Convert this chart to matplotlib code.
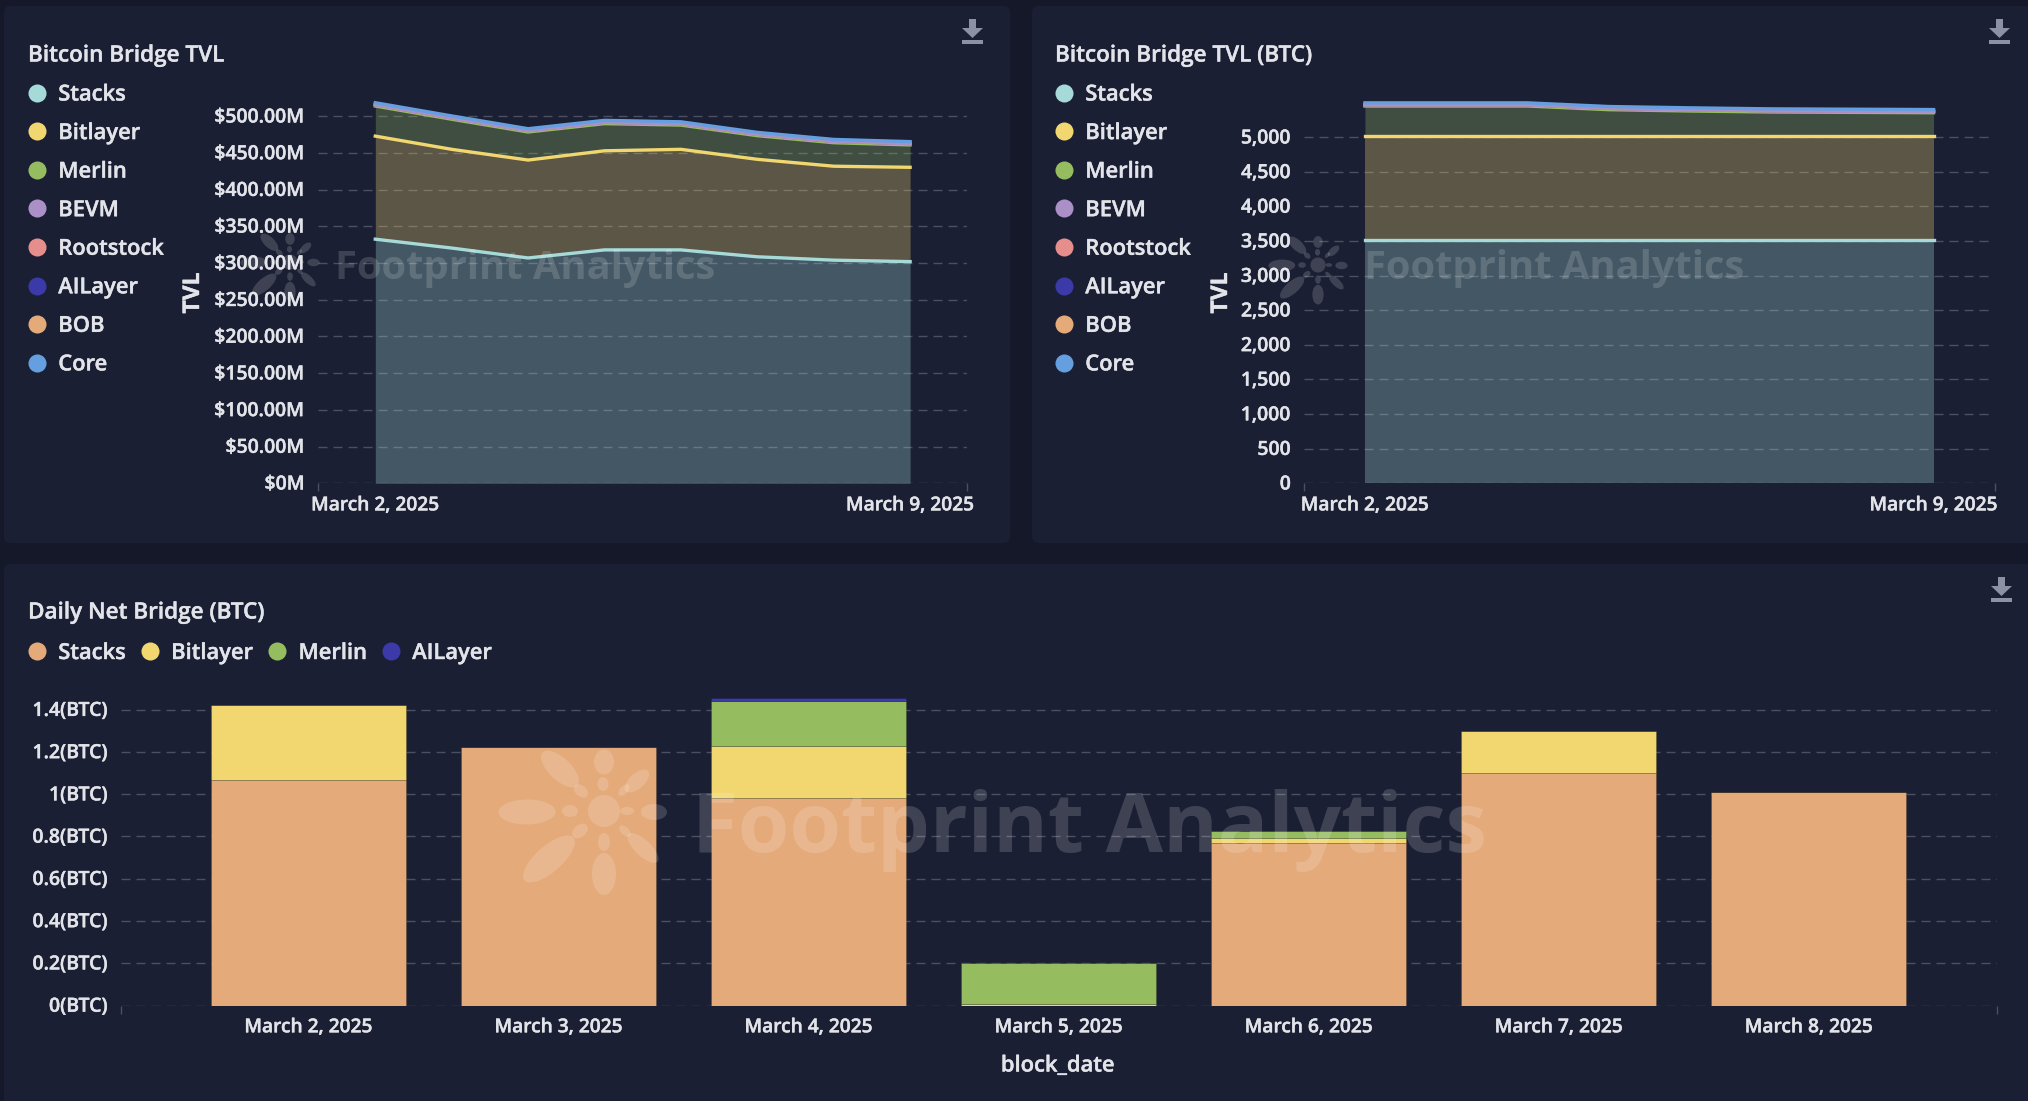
#!/usr/bin/env python3
# -*- coding: utf-8 -*-

import numpy as np
import matplotlib
matplotlib.use("Agg")
import matplotlib.pyplot as plt
import matplotlib.patheffects as pe
from matplotlib.lines import Line2D
from matplotlib.patches import Ellipse, FancyBboxPatch, Polygon, Rectangle
from matplotlib.text import Text
from matplotlib.ticker import NullFormatter
from matplotlib.transforms import ScaledTranslation

# ============================================================
# DATA
# ============================================================
BRIDGES = ["Stacks", "Bitlayer", "Merlin", "BEVM", "Rootstock", "AILayer", "BOB", "Core"]

# Bitcoin Bridge TVL, $M per day (March 2 .. March 9)
usd_stacks = [332.6, 320.5, 307, 318, 318, 308.6, 304, 302]
usd_bitlayer = [140.4, 134.5, 133.4, 135, 137, 132.8, 128, 128.5]
usd_merlin = [41, 41, 38.2, 37, 33, 32.2, 32, 30.5]
usd_bevm = [1.8, 1.8, 1.8, 1.8, 1.8, 1.8, 1.8, 1.8]
usd_rootstock = [0.1, 0.1, 0.1, 0.1, 0.1, 0.1, 0.1, 0.1]
usd_ailayer = [0.1, 0.1, 0.1, 0.1, 0.1, 0.1, 0.1, 0.1]
usd_bob = [0.1, 0.1, 0.1, 0.1, 0.1, 0.1, 0.1, 0.1]
usd_core = [2.4, 2.4, 2.4, 2.4, 2.4, 2.4, 2.4, 2.4]

# Bitcoin Bridge TVL (BTC)
btc_stacks = [3522, 3522, 3522, 3522, 3522, 3522, 3522, 3522]
btc_bitlayer = [1497, 1497, 1497, 1497, 1497, 1497, 1497, 1497]
btc_merlin = [433, 433, 433, 380, 361, 346, 341, 336]
btc_bevm = [18, 18, 18, 18, 18, 18, 18, 18]
btc_rootstock = [1, 1, 1, 1, 1, 1, 1, 1]
btc_ailayer = [1, 1, 1, 1, 1, 1, 1, 1]
btc_bob = [2, 2, 2, 2, 2, 2, 2, 2]
btc_core = [24, 24, 24, 24, 24, 24, 24, 24]

usd_ticks = [0, 50, 100, 150, 200, 250, 300, 350, 400, 450, 500]
usd_tick_labels = ["$0M", "$50.00M", "$100.00M", "$150.00M", "$200.00M", "$250.00M",
                   "$300.00M", "$350.00M", "$400.00M", "$450.00M", "$500.00M"]
btc_ticks = [0, 500, 1000, 1500, 2000, 2500, 3000, 3500, 4000, 4500, 5000]
btc_tick_labels = ["0", "500", "1,000", "1,500", "2,000", "2,500",
                   "3,000", "3,500", "4,000", "4,500", "5,000"]

# Daily Net Bridge (BTC)
net_dates = ["March 2, 2025", "March 3, 2025", "March 4, 2025", "March 5, 2025",
             "March 6, 2025", "March 7, 2025", "March 8, 2025"]
net_stacks = [1.068, 1.222, 0.981, 0.0, 0.77, 1.102, 1.009]
net_bitlayer = [0.352, 0.0, 0.248, 0.008, 0.022, 0.198, 0.0]
net_merlin = [0.0, 0.0, 0.213, 0.192, 0.034, 0.0, 0.0]
net_ailayer = [0.0, 0.0, 0.015, 0.0, 0.0, 0.0, 0.0]
net_ticks = [0, 0.2, 0.4, 0.6, 0.8, 1.0, 1.2, 1.4]
net_tick_labels = ["0(BTC)", "0.2(BTC)", "0.4(BTC)", "0.6(BTC)", "0.8(BTC)",
                   "1(BTC)", "1.2(BTC)", "1.4(BTC)"]

# ============================================================
# STYLE SETTINGS
# ============================================================
W, H = 2028, 1101
DPI = 100

PAGE_BG = "#141829"
PANEL_BG = "#1a1f33"
TEXT = "#e2e4e9"
GRID = "#4b4f60"
ICON = "#8c91a3"

COLORS = {"Stacks": "#a5dad8", "Bitlayer": "#f2d670", "Merlin": "#95bd60", "BEVM": "#ab90c8",
          "Rootstock": "#e58e8c", "AILayer": "#3b3aa8", "BOB": "#e5aa7a", "Core": "#659fe0"}

# outlines: the tiny series sit under BEVM, Core is on top
LINE_ORDER = ["Stacks", "Bitlayer", "Merlin", "BOB", "AILayer", "Rootstock", "BEVM", "Core"]

FS_TITLE = 16.2
FS_LEGEND = 15.8
FS_YTICK = 14.0
FS_XTICK = 13.8

plt.rcParams["font.family"] = ["Open Sans", "DejaVu Sans"]
plt.rcParams["font.weight"] = 600

# logo petals: dx, dy, length, width (size of the big bottom watermark)
PETALS = [(-77, 1, 57, 25), (0, -49, 25, 20), (0, 63, 42, 24),
          (-44, -42, 48, 22), (-55, 48, 65, 26), (33, -30, 30, 15),
          (50, 1, 26, 16), (39, 37, 40, 16),
          (-34, 0, 16, 12), (-1, -27, 14, 11), (0, 31, 18, 12),
          (-23, -20, 16, 11), (-24, 20, 18, 12), (20, -21, 14, 8),
          (23, 0, 14, 8), (21, 20, 14, 8)]


# ============================================================
# Helpers
# ============================================================
def px_axes(fig, left, right, top, bottom):
    return fig.add_axes([left / W, 1 - bottom / H, (right - left) / W, (bottom - top) / H])


def style_axis(ax, ticks, labels, pad_px, xpad):
    ax.set_facecolor("none")
    for s in ax.spines.values():
        s.set_visible(False)
    ax.set_yticks(ticks)
    ax.set_yticklabels(labels)
    ax.tick_params(axis="y", length=0, pad=pad_px * 72 / DPI, labelsize=FS_YTICK, labelcolor=TEXT)
    ax.tick_params(axis="x", which="major", length=0, pad=xpad, labelsize=FS_XTICK, labelcolor=TEXT)
    ax.grid(axis="y", color=GRID, lw=1.0, linestyle=(0, (6.5, 4.3)), zorder=1)
    ax.set_axisbelow(True)
    # y labels sit a touch above their grid line
    up = ScaledTranslation(0, 1.3 / DPI, ax.figure.dpi_scale_trans)
    for lab in ax.get_yticklabels():
        lab.set_transform(lab.get_transform() + up)
    # short marks only at both ends of the x axis
    ax.set_xticks(ax.get_xlim(), minor=True)
    ax.xaxis.set_minor_formatter(NullFormatter())
    ax.tick_params(axis="x", which="minor", length=6, width=1, color=GRID)


def stacked_area(ax, series):
    days = np.arange(len(series[0]))
    low = np.zeros(len(days))
    tops = {}
    for name, vals in zip(BRIDGES, series):
        top = low + np.array(vals, dtype=float)
        ax.fill_between(days, low, top, color=COLORS[name], alpha=0.3, lw=0, zorder=2)
        tops[name] = top
        low = top
    for name in LINE_ORDER:
        ax.plot(days, tops[name], color=COLORS[name], lw=2.4, zorder=3, solid_joinstyle="round")
    ax.set_xlim(-0.75, 7.75)
    ax.set_xticks([0, 7])
    ax.set_xticklabels(["March 2, 2025", "March 9, 2025"])


def add_legend(ax, names, colors, x_px, y_px, ncol):
    handles = [Line2D([], [], ls="none", marker="o", ms=13.0, mfc=c, mec="none") for c in colors]
    leg = ax.legend(handles, names, loc="upper left", bbox_to_anchor=(x_px / W, 1 - y_px / H),
                    bbox_transform=ax.figure.transFigure, frameon=False, ncols=ncol,
                    fontsize=FS_LEGEND, labelcolor=TEXT, borderpad=0, borderaxespad=0,
                    handlelength=1.0, handletextpad=0.47, labelspacing=0.80, columnspacing=0.58)
    return leg


def watermark(ax, cx, cy, scale, tx, ty, fontsize):
    for dx, dy, ln, wd in PETALS:
        ang = np.degrees(np.arctan2(dy, dx))
        ax.add_patch(Ellipse((cx + dx * scale, cy + dy * scale), ln * scale, wd * scale, angle=ang,
                             fc="white", ec="none", alpha=0.16))
    ax.add_patch(Ellipse((cx, cy), 32 * scale, 32 * scale, fc="white", ec="none", alpha=0.16))
    ax.text(tx, ty, "Footprint Analytics", color="white", alpha=0.16, fontsize=fontsize,
            fontweight="bold", va="baseline", ha="left", gid="wm")


def download_icon(ax, x0, y0):
    # 21 x 24 px arrow with a bar under it
    ax.add_patch(Polygon([(x0 + 7, y0), (x0 + 14, y0), (x0 + 14, y0 + 9), (x0 + 21, y0 + 9),
                          (x0 + 10.5, y0 + 19), (x0, y0 + 9), (x0 + 7, y0 + 9)],
                         fc=ICON, ec="none"))
    ax.add_patch(Rectangle((x0, y0 + 21), 21, 3.5, fc=ICON, ec="none"))


# ============================================================
# Main
# ============================================================
fig = plt.figure(figsize=(W / DPI, H / DPI), dpi=DPI, facecolor=PAGE_BG)

# background panels, in pixel coordinates
bg = fig.add_axes([0, 0, 1, 1], zorder=0)
bg.set_xlim(0, W)
bg.set_ylim(H, 0)
bg.axis("off")
for x0, y0, x1, y1 in [(4, 6, 1010, 543), (1032, 6, 2040, 543), (4, 564, 2040, 1120)]:
    bg.add_patch(FancyBboxPatch((x0, y0), x1 - x0, y1 - y0, boxstyle="round,pad=0,rounding_size=7",
                                fc=PANEL_BG, ec="none"))

# ---------- Bitcoin Bridge TVL ----------
ax1 = px_axes(fig, 318, 967.4, 483.3 - 550 * 0.734, 483.3)
ax1.set_zorder(1)
ax1.set_ylim(0, 550)
stacked_area(ax1, [usd_stacks, usd_bitlayer, usd_merlin, usd_bevm,
                   usd_rootstock, usd_ailayer, usd_bob, usd_core])
style_axis(ax1, usd_ticks, usd_tick_labels, 13, 8.7)
add_legend(ax1, BRIDGES, [COLORS[n] for n in BRIDGES], 26, 84.5, 1)
fig.text(193 / W, 1 - 293 / H, "TVL", rotation=90, color=TEXT, fontsize=16.5, fontweight="bold",
         ha="center", va="center")
fig.text(28 / W, 1 - 56 / H, "Bitcoin Bridge TVL", color=TEXT, fontsize=FS_TITLE, va="center")

# ---------- Bitcoin Bridge TVL (BTC) ----------
ax2 = px_axes(fig, 1304, 1994.5, 483.3 - 6000 * 0.0692, 483.3)
ax2.set_zorder(1)
ax2.set_ylim(0, 6000)
stacked_area(ax2, [btc_stacks, btc_bitlayer, btc_merlin, btc_bevm,
                   btc_rootstock, btc_ailayer, btc_bob, btc_core])
style_axis(ax2, btc_ticks, btc_tick_labels, 13, 8.7)
add_legend(ax2, BRIDGES, [COLORS[n] for n in BRIDGES], 1053, 84.5, 1)
fig.text(1221 / W, 1 - 293 / H, "TVL", rotation=90, color=TEXT, fontsize=16.5, fontweight="bold",
         ha="center", va="center")
fig.text(1055 / W, 1 - 56 / H, "Bitcoin Bridge TVL (BTC)", color=TEXT, fontsize=FS_TITLE, va="center")

# ---------- Daily Net Bridge (BTC) ----------
ax3 = px_axes(fig, 121, 1996.5, 1005.5 - 1.5 * 211.3, 1005.5)
ax3.set_zorder(1)
ax3.set_ylim(0, 1.5)
ax3.set_xlim(-0.75, 6.75)
pos = np.arange(len(net_dates))
bottom = np.zeros(len(pos))
net_names = ["Stacks", "Bitlayer", "Merlin", "AILayer"]
net_cols = [COLORS["BOB"], COLORS["Bitlayer"], COLORS["Merlin"], COLORS["AILayer"]]
for name, vals, col in zip(net_names, [net_stacks, net_bitlayer, net_merlin, net_ailayer], net_cols):
    ax3.bar(pos, vals, width=0.78, bottom=bottom, color=col, edgecolor=(0, 0, 0, 0.2), lw=0.5, zorder=2)
    bottom = bottom + np.array(vals)
ax3.set_xticks(pos)
ax3.set_xticklabels(net_dates)
style_axis(ax3, net_ticks, net_tick_labels, 13, 8.5)
add_legend(ax3, net_names, net_cols, 26, 643, 4)
fig.text(28 / W, 1 - 613 / H, "Daily Net Bridge (BTC)", color=TEXT, fontsize=FS_TITLE, va="center")
fig.text(1058 / W, 1 - 1066 / H, "block_date", color=TEXT, fontsize=FS_LEGEND, ha="center", va="center")

# ---------- watermarks and icons, above everything ----------
fg = fig.add_axes([0, 0, 1, 1], zorder=5)
fg.set_xlim(0, W)
fg.set_ylim(H, 0)
fg.axis("off")
fg.patch.set_alpha(0)
watermark(fg, 290, 262, 0.47, 335, 279, 28.7)
watermark(fg, 1318, 265, 0.47, 1364, 279, 28.7)
watermark(fg, 604, 811, 1.0, 692, 852, 60)
download_icon(fg, 962, 19)
download_icon(fg, 1989, 19)
download_icon(fg, 1991, 577)

# slightly heavier labels
for t in fig.findobj(Text):
    if t.get_gid() != "wm":
        t.set_path_effects([pe.withStroke(linewidth=0.3, foreground=TEXT)])

fig.savefig("out.png", dpi=DPI, facecolor=PAGE_BG)
plt.close(fig)
